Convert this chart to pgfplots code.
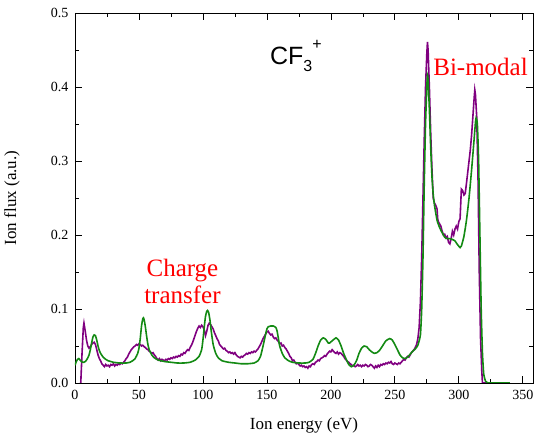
\documentclass[border=0pt]{standalone}
\usepackage{fontspec}
\setmainfont{Liberation Serif}
\newfontfamily\arial{Liberation Sans}
\usepackage{pgfplots}
\pgfplotsset{compat=1.18}
\usetikzlibrary{calc}
\definecolor{meas}{HTML}{800080}
\definecolor{sim}{HTML}{138A13}

\begin{document}
\begin{tikzpicture}
\begin{axis}[
    name=ax,
    scale only axis,
    width=458pt, height=370pt,
    xmin=0, xmax=358, ymin=0, ymax=0.5,
    xtick={0,50,...,350},
    ytick={0,0.1,...,0.5},
    minor x tick num=1, minor y tick num=1,
    tick align=inside,
    tick pos=both,
    xticklabel pos=lower, yticklabel pos=left,
    major tick length=7pt, minor tick length=4pt,
    every tick/.style={black, line width=0.7pt},
    axis line style={black, line width=0.8pt},
    /pgf/number format/assume math mode=true,
    ticklabel style={font=\fontsize{14}{16}\selectfont},
    yticklabel style={/pgf/number format/.cd, fixed, fixed zerofill, precision=1, /tikz/.cd, xshift=-3pt},
    xticklabel style={yshift=-4pt},
    xlabel={Ion energy (eV)},
    ylabel={Ion flux (a.u.)},
    label style={font=\fontsize{17}{19}\selectfont},
    xlabel style={at={(axis description cs:0.5,-0.1135)}, anchor=center},
    ylabel style={at={(axis description cs:-0.1376,0.5)}, anchor=center},
    clip=true,
]
\addplot[color=meas, line width=1.6pt] coordinates {
(4.5,0) (5.5,0.04) (6.5,0.075) (7,0.081) (8,0.07) (9,0.058) (10,0.05) (11,0.047)
(12,0.049) (13,0.052) (14,0.054) (15,0.055) (16,0.052) (17,0.045) (18,0.038) (19,0.033)
(20,0.030) (21,0.026) (22,0.024) (23,0.022) (24,0.025) (25,0.023) (26,0.024) (27,0.022)
(28,0.025) (29,0.024) (30,0.026) (31,0.023) (32,0.025) (33,0.024) (34,0.026) (35,0.025)
(36,0.027) (37,0.026) (38,0.028) (39,0.030) (40,0.033) (41,0.035) (42,0.039) (43,0.042)
(44,0.045) (45,0.047) (46,0.049) (47,0.050) (48,0.052) (49,0.051) (50,0.053) (51,0.052)
(52,0.050) (53,0.051) (54,0.049) (55,0.048) (56,0.046) (57,0.045) (58,0.043) (59,0.042)
(60,0.040) (61,0.041) (62,0.038) (63,0.036) (64,0.033) (65,0.031) (66,0.033) (67,0.030)
(68,0.032) (69,0.031) (70,0.030) (71,0.032) (72,0.031) (73,0.033) (74,0.032) (75,0.034)
(76,0.033) (77,0.035) (78,0.034) (79,0.036) (80,0.035) (81,0.037) (82,0.036) (83,0.039)
(84,0.038) (85,0.041) (86,0.040) (87,0.043) (88,0.045) (89,0.044) (90,0.048) (91,0.051)
(92,0.055) (93,0.060) (94,0.065) (95,0.070) (96,0.074) (97,0.077) (98,0.075) (99,0.078)
(100,0.076) (101,0.072) (102,0.064) (103,0.070) (104,0.078) (105,0.081) (106,0.079) (107,0.076)
(108,0.073) (109,0.068) (110,0.064) (111,0.060) (112,0.057) (113,0.052) (114,0.050) (115,0.048)
(116,0.046) (117,0.047) (118,0.044) (119,0.043) (120,0.041) (121,0.042) (122,0.040) (123,0.041)
(124,0.039) (125,0.041) (126,0.038) (127,0.036) (128,0.035) (129,0.034) (130,0.036) (131,0.035)
(132,0.037) (133,0.038) (134,0.040) (135,0.039) (136,0.041) (137,0.040) (138,0.042) (139,0.041)
(140,0.043) (141,0.042) (142,0.044) (143,0.046) (144,0.049) (145,0.052) (146,0.056) (147,0.060)
(148,0.063) (149,0.066) (150,0.069) (151,0.070) (152,0.067) (153,0.065) (154,0.066) (155,0.062)
(156,0.060) (157,0.061) (158,0.058) (159,0.056) (160,0.053) (161,0.054) (162,0.050) (163,0.051)
(164,0.048) (165,0.046) (166,0.043) (167,0.040) (168,0.036) (169,0.034) (170,0.030) (171,0.031)
(172,0.028) (173,0.026) (174,0.027) (175,0.025) (176,0.023) (177,0.024) (178,0.022) (179,0.023)
(180,0.021) (181,0.022) (182,0.020) (183,0.023) (184,0.022) (185,0.025) (186,0.026) (187,0.025)
(188,0.028) (189,0.029) (190,0.031) (191,0.030) (192,0.033) (193,0.034) (194,0.035) (195,0.037)
(196,0.036) (197,0.039) (198,0.041) (199,0.043) (200,0.042) (201,0.045) (202,0.043) (203,0.041)
(204,0.040) (205,0.042) (206,0.039) (207,0.041) (208,0.040) (209,0.038) (210,0.036) (211,0.033)
(212,0.031) (213,0.029) (214,0.028) (215,0.026) (216,0.025) (217,0.023) (218,0.024) (219,0.022)
(220,0.023) (221,0.025) (222,0.023) (223,0.024) (224,0.022) (225,0.024) (226,0.023) (227,0.025)
(228,0.024) (229,0.022) (230,0.023) (231,0.025) (232,0.024) (233,0.022) (234,0.020) (235,0.023)
(236,0.021) (237,0.024) (238,0.022) (239,0.025) (240,0.024) (241,0.026) (242,0.025) (243,0.027)
(244,0.026) (245,0.028) (246,0.027) (247,0.029) (248,0.026) (249,0.025) (250,0.027) (251,0.026)
(252,0.025) (253,0.027) (254,0.026) (255,0.028) (256,0.030) (257,0.032) (258,0.031) (259,0.034)
(260,0.036) (261,0.035) (262,0.038) (263,0.041) (264,0.043) (265,0.045) (266,0.048) (267,0.052)
(268,0.060) (269,0.075) (270,0.11) (271,0.17) (272,0.25) (273,0.33) (274,0.40) (275,0.445)
(275.5,0.461) (276,0.45) (277,0.40) (278,0.34) (279,0.29) (280,0.25) (281,0.243) (282,0.24)
(283,0.235) (283.5,0.222) (284,0.218) (285,0.215) (286,0.212) (287,0.205) (288,0.200) (289,0.201)
(290,0.196) (291,0.198) (292,0.190) (293,0.188) (294,0.195) (295,0.205) (296,0.200) (297,0.208)
(298,0.212) (299,0.208) (300,0.218) (301,0.222) (302,0.262) (303,0.26) (304,0.254) (305,0.256)
(306,0.27) (307,0.285) (308,0.30) (309,0.315) (310,0.335) (311,0.36) (312,0.385) (312.5,0.396)
(313,0.39) (314,0.36) (315,0.28) (316,0.15) (317,0.06) (318,0.015) (318.5,0) (325,0)
};
\addplot[color=sim, line width=1.6pt, smooth, tension=0.3] coordinates {
(0,0.024) (1,0.029) (2,0.032) (3,0.033) (4,0.031) (5,0.029) (6,0.028) (7,0.028)
(8,0.029) (9,0.031) (10,0.034) (11,0.038) (12,0.045) (13,0.054) (14,0.062) (15,0.065)
(16,0.064) (17,0.058) (18,0.050) (19,0.044) (20,0.040) (22,0.035) (24,0.032) (26,0.030)
(28,0.029) (30,0.028) (35,0.027) (40,0.027) (43,0.028) (45,0.030) (47,0.033) (49,0.040)
(50,0.047) (51,0.060) (52,0.077) (53,0.087) (53.5,0.088) (54,0.086) (55,0.076) (56,0.063)
(57,0.052) (58,0.045) (60,0.038) (62,0.034) (65,0.031) (70,0.029) (75,0.028) (80,0.027)
(85,0.027) (90,0.028) (94,0.031) (97,0.036) (99,0.045) (100,0.058) (101,0.075) (102,0.090)
(103,0.097) (103.6,0.098) (104.5,0.095) (105.5,0.085) (106.5,0.070) (108,0.052) (110,0.040) (112,0.034)
(115,0.030) (120,0.028) (125,0.027) (130,0.026) (135,0.026) (140,0.027) (143,0.030) (145,0.036)
(147,0.050) (149,0.066) (150,0.073) (151,0.076) (153,0.077) (155,0.077) (157,0.075) (158,0.070)
(159,0.060) (160,0.050) (162,0.040) (164,0.034) (167,0.030) (170,0.028) (175,0.027) (180,0.027)
(183,0.028) (186,0.032) (188,0.040) (190,0.050) (192,0.058) (194,0.061) (196,0.059) (198,0.054)
(199,0.054) (201,0.057) (204,0.061) (206,0.058) (208,0.050) (210,0.040) (212,0.032) (214,0.025)
(216,0.022) (218,0.024) (220,0.030) (222,0.040) (224,0.047) (226,0.050) (228,0.049) (230,0.045)
(232,0.042) (234,0.040) (236,0.041) (238,0.044) (240,0.049) (243,0.057) (246,0.060) (248,0.058)
(250,0.052) (252,0.045) (254,0.038) (256,0.034) (258,0.033) (260,0.035) (262,0.039) (264,0.043)
(266,0.046) (268,0.051) (270,0.065) (271,0.10) (272,0.17) (273,0.27) (274,0.35) (275,0.40)
(275.5,0.416) (276,0.41) (277,0.37) (278,0.32) (279,0.28) (280,0.255) (281,0.24) (283,0.22)
(285,0.21) (287,0.203) (289,0.197) (291,0.195) (293,0.195) (295,0.194) (297,0.192) (299,0.187)
(301,0.183) (302,0.185) (304,0.198) (306,0.22) (308,0.25) (310,0.288) (312,0.33) (313,0.352)
(313.5,0.358) (314.5,0.35) (315.5,0.30) (316.5,0.20) (317.5,0.10) (318.5,0.04) (319.5,0.012) (321,0.002)
(323,0) (340,0)
};
\node[align=center, text=red, font=\fontsize{25}{27}\selectfont] at (axis cs:84,0.137) {Charge\\transfer};
\node[anchor=base, text=red, font=\fontsize{25}{27}\selectfont, inner sep=0pt] at (axis cs:317,0.416) {Bi-modal};
\node[anchor=base west, inner sep=0pt, font=\arial\fontsize{25}{27}\selectfont] at (axis cs:152.3,0.43)
  {CF\raisebox{-7pt}{\fontsize{16}{16}\selectfont 3}\raisebox{15pt}{\fontsize{16}{16}\selectfont +}};
\end{axis}
\pgfresetboundingbox
\path[use as bounding box] ($(ax.south west)+(-75pt,-52pt)$) rectangle ($(ax.north east)+(1pt,13pt)$);
\end{tikzpicture}
\end{document}
